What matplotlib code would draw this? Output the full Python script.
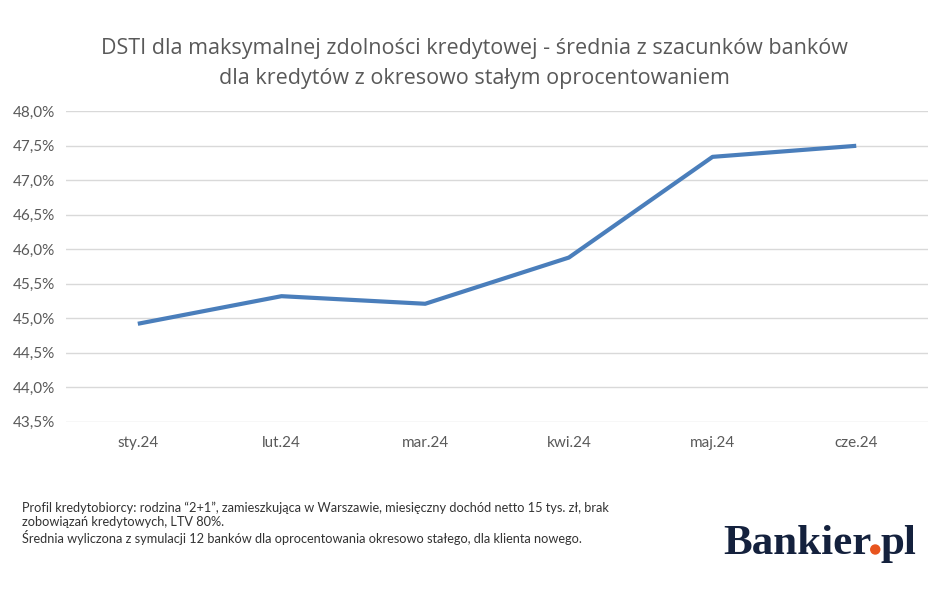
import matplotlib
matplotlib.use("Agg")
import matplotlib.pyplot as plt
from matplotlib.patches import Ellipse
from matplotlib.ticker import FuncFormatter

# data
months = ["sty.24", "lut.24", "mar.24", "kwi.24", "maj.24", "cze.24"]
dsti = [44.92, 45.32, 45.21, 45.88, 47.34, 47.50]
y_ticks = [43.5, 44.0, 44.5, 45.0, 45.5, 46.0, 46.5, 47.0, 47.5, 48.0]

title = ("DSTI dla maksymalnej zdolności kredytowej - średnia z szacunków banków\n"
         "dla kredytów z okresowo stałym oprocentowaniem")
footnote = ("Profil kredytobiorcy: rodzina \u201c2+1\u201d, zamieszkująca w Warszawie, "
            "miesięczny dochód netto 15 tys. zł, brak\n"
            "zobowiązań kredytowych, LTV 80%.\n"
            "Średnia wyliczona z symulacji 12 banków dla oprocentowania okresowo stałego, "
            "dla klienta nowego.")

grey = "#595959"
line_col = "#4a7ebb"
navy = "#14213d"

plt.rcParams["font.family"] = ["Lato", "DejaVu Sans"]

fig = plt.figure(figsize=(9.48, 5.89), dpi=100)
ax = fig.add_axes([0.0696, 0.284, 0.9094, 0.527])

x = range(len(months))
ax.plot(x, dsti, color=line_col, linewidth=3, solid_capstyle="butt", zorder=3)

ax.set_xlim(-0.5, len(months) - 0.5)
ax.set_ylim(43.5, 48.0)
ax.set_yticks(y_ticks)
ax.yaxis.set_major_formatter(FuncFormatter(lambda v, p: f"{v:.1f}%".replace(".", ",")))
ax.set_xticks(list(x))
ax.set_xticklabels(months)

ax.grid(axis="y", color="#d9d9d9", linewidth=1)
ax.set_axisbelow(True)
for s in ax.spines.values():
    s.set_visible(False)
ax.tick_params(axis="both", length=0, labelsize=11, labelcolor=grey)
ax.tick_params(axis="x", pad=10)
ax.tick_params(axis="y", pad=8)

fig.text(0.5, 0.892, title, ha="center", va="center", fontsize=15.5,
         color=grey, family=["Open Sans", "DejaVu Sans"], linespacing=1.55)

fig.text(0.023, 0.149, footnote, ha="left", va="top", fontsize=9.2,
         color="#333333", linespacing=1.2)

# logo: "Bankier" + orange dot + "pl"
fig.canvas.draw()
r = fig.canvas.get_renderer()
W, H = 948, 589
lx, ly = 723, H - 554
logo_kw = dict(fontsize=31, fontweight="bold", family="Liberation Serif",
               ha="left", va="baseline")
t1 = fig.text(lx / W, ly / H, "Bankier", color=navy, **logo_kw)
w1 = t1.get_window_extent(r).width
fig.add_artist(Ellipse(((lx + w1 + 4) / W, (ly + 4.5) / H), 9 / W, 9 / H,
                       transform=fig.transFigure, color="#e8541e"))
fig.text((lx + w1 + 9) / W, ly / H, "pl", color=navy, **logo_kw)

fig.savefig("out.png", dpi=100, facecolor="white")
